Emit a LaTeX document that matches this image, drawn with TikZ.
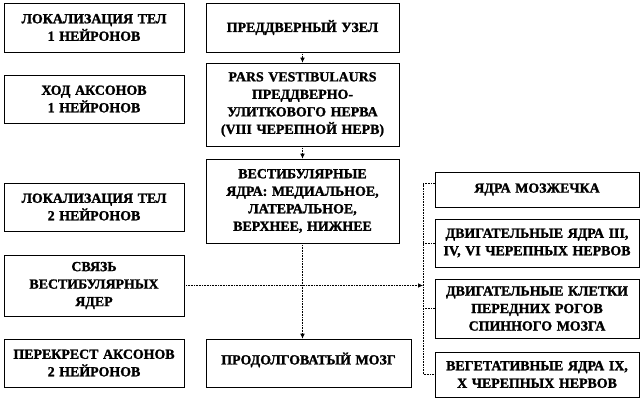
\documentclass[tikz,border=0pt]{standalone}
\usepackage{fontspec}
\setmainfont[BoldFeatures={FakeBold=1.5}]{Liberation Serif}
\usetikzlibrary{arrows.meta}
\tikzset{
    blok/.style={draw=black, line width=0.6pt, align=center, inner sep=1pt,
        font=\bfseries\fontsize{13.9}{17.5}\selectfont},
    link/.style={densely dotted, line width=0.6pt},
    arr/.style={link, -{Latex[length=5pt,width=4.5pt]}}}

\begin{document}
\begin{tikzpicture}[x=1pt, y=-1pt]

            \useasboundingbox (0,0) rectangle (642,402);

            \node[blok, text width=178pt, minimum height=49pt] (L1) at (94,27.5) {ЛОКАЛИЗАЦИЯ ТЕЛ\\1 НЕЙРОНОВ};
            \node[blok, text width=178pt, minimum height=48pt] (L2) at (94,99) {ХОД АКСОНОВ\\1 НЕЙРОНОВ};
            \node[blok, text width=178pt, minimum height=48pt] (L3) at (94,207) {ЛОКАЛИЗАЦИЯ ТЕЛ\\2 НЕЙРОНОВ};
            \node[blok, text width=178pt, minimum height=61pt] (L4) at (94,285.5) {СВЯЗЬ\\ВЕСТИБУЛЯРНЫХ\\ЯДЕР};
            \node[blok, text width=178pt, minimum height=48pt] (L5) at (94,363) {ПЕРЕКРЕСТ АКСОНОВ\\2 НЕЙРОНОВ};

            \node[blok, text width=191pt, minimum height=49pt] (A) at (302.5,27.5) {ПРЕДДВЕРНЫЙ УЗЕЛ};
            \node[blok, text width=191pt, minimum height=83pt] (B) at (302.5,104.5) {PARS VESTIBULAURS\hspace*{2.2em}\\ПРЕДДВЕРНО-\\УЛИТКОВОГО НЕРВА\\(VIII ЧЕРЕПНОЙ НЕРВ)};
            \node[blok, text width=191pt, minimum height=84pt] (C) at (302.5,201) {ВЕСТИБУЛЯРНЫЕ\\ЯДРА: МЕДИАЛЬНОЕ,\\ЛАТЕРАЛЬНОЕ,\\ВЕРХНЕЕ, НИЖНЕЕ};
            \node[blok, text width=203pt, minimum height=48pt, text depth=9pt] (D) at (308.5,363) {ПРОДОЛГОВАТЫЙ МОЗГ};

            \node[blok, text width=202pt, minimum height=35pt] (R1) at (537,189.5) {ЯДРА МОЗЖЕЧКА};
            \node[blok, text width=202pt, minimum height=48pt] (R2) at (537,243) {ДВИГАТЕЛЬНЫЕ ЯДРА III,\\IV, VI ЧЕРЕПНЫХ НЕРВОВ};
            \node[blok, text width=202pt, minimum height=59pt] (R3) at (537,308.5) {ДВИГАТЕЛЬНЫЕ КЛЕТКИ\\ПЕРЕДНИХ РОГОВ\\СПИННОГО МОЗГА};
            \node[blok, text width=202pt, minimum height=45pt] (R4) at (537,374.5) {ВЕГЕТАТИВНЫЕ ЯДРА IX,\\X ЧЕРЕПНЫХ НЕРВОВ};

            \coordinate (br) at (423,183);

            \draw[arr] (A) -- (B);
            \draw[arr] (B) -- (C);
            \draw[arr] (C.south) -- (C.south |- D.north);
            \draw[arr] (L4.east) -- (L4.east -| br);

            \draw[link] ([yshift=6pt]R1.west) -| (R4.west -| br) -- (R4.west);
            \draw[link] (R2.west) -- (R2.west -| br);
            \draw[link] (R3.west) -- (R3.west -| br);

        \end{tikzpicture}
\end{document}
